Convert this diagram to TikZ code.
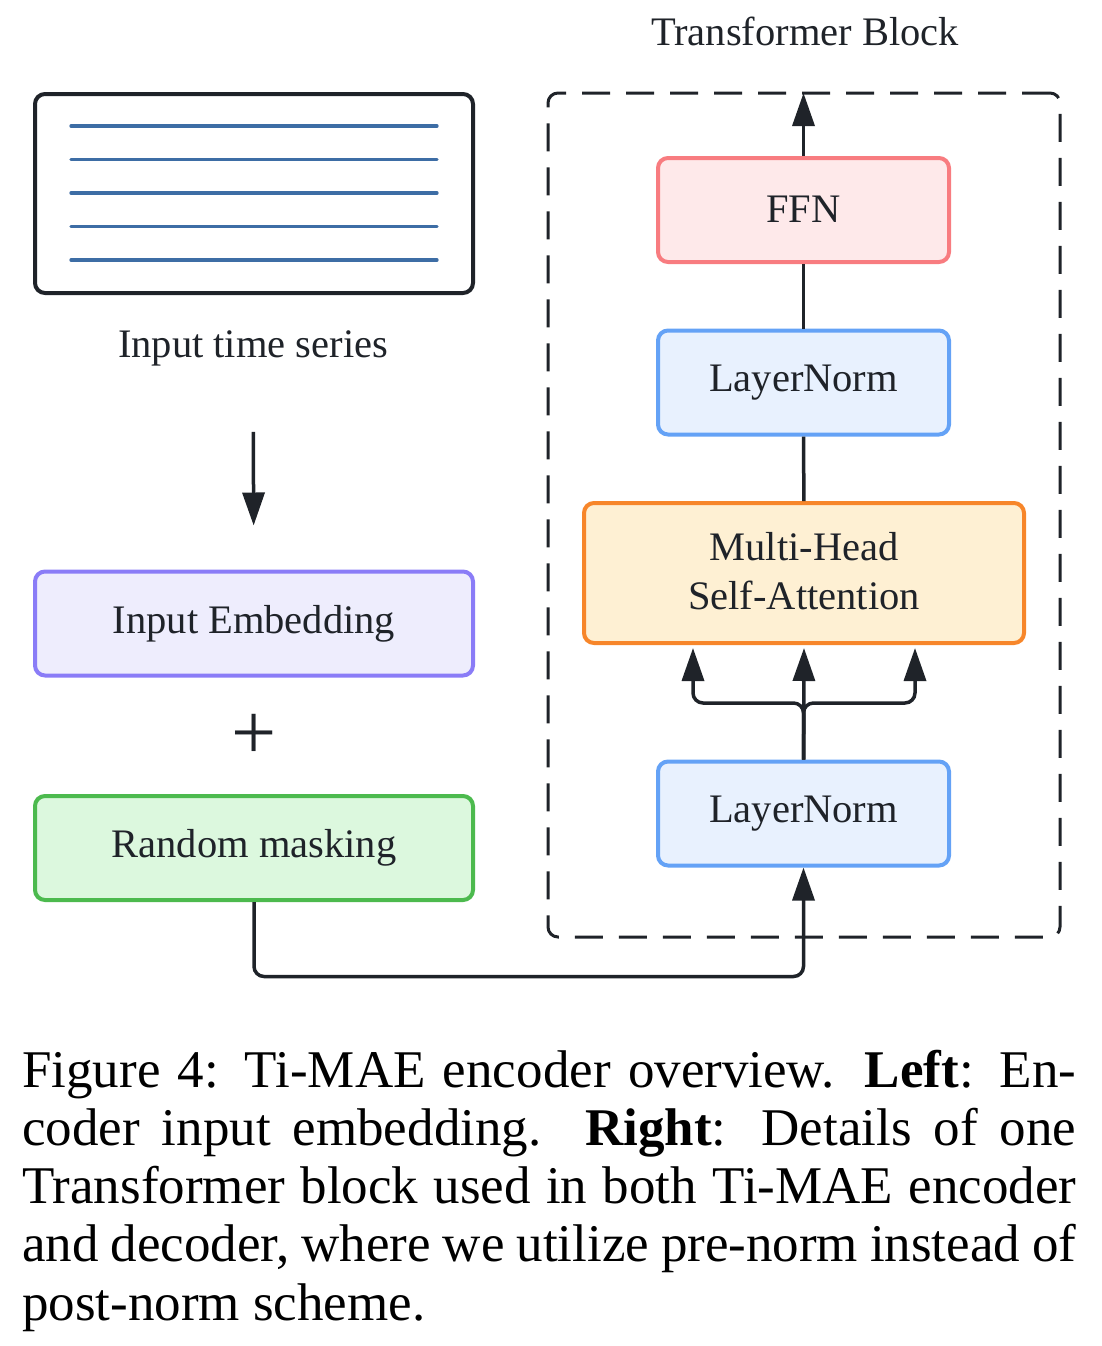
\documentclass[tikz,border=0pt]{standalone}
\usepackage{fontspec}
\setmainfont{Liberation Serif}
\usetikzlibrary{arrows.meta,calc}
\definecolor{ink}{HTML}{1F2329}
\definecolor{tsline}{HTML}{3D6DA5}
\definecolor{embd}{HTML}{8A7CF7}
\definecolor{embf}{HTML}{EEEDFD}
\definecolor{rmd}{HTML}{4CBA4E}
\definecolor{rmf}{HTML}{DCF8DE}
\definecolor{ffnd}{HTML}{F87C80}
\definecolor{ffnf}{HTML}{FEE9EA}
\definecolor{lnd}{HTML}{64A2F6}
\definecolor{lnf}{HTML}{E8F1FE}
\definecolor{mhd}{HTML}{F7862A}
\definecolor{mhf}{HTML}{FEF0D3}
\begin{document}
\begin{tikzpicture}[x=1pt,y=-1pt,
  box/.style={rectangle, rounded corners=10pt, line width=4pt, minimum width=438pt,
    minimum height=104pt, inner sep=0pt, text=ink, align=center,
    font=\fontsize{40.5}{49}\selectfont},
  lbl/.style={inner sep=0pt, text=ink, font=\fontsize{40.5}{49}\selectfont},
  conn/.style={draw=ink, line width=3.5pt},
  arr/.style={conn, -{Triangle[length=33pt,width=22pt]}},
  tsl/.style={draw=tsline, line width=3.3pt, line cap=round}]
\useasboundingbox (0,0) rectangle (1102,1346);

% ---------- left column ----------
\node[box, draw=ink, fill=white, minimum width=438pt, minimum height=199pt] (ts) at (254,193.5) {};
\foreach \yy in {126,159.5,193,226.5,260}
  \draw[tsl] (71,\yy) -- (437,\yy);
\node[lbl, anchor=base] (tslbl) at (253,357) {Input time series};

\node[box, draw=embd, fill=embf] (emb) at (254,623.5) {Input Embedding};
\node[lbl, font=\fontsize{80}{80}\selectfont] (plus) at (254,737) {+};
\node[box, draw=rmd, fill=rmf] (rm) at (254,848) {Random masking};

\draw[arr, shorten <=66pt, shorten >=44pt] (tslbl) -- (emb);

% ---------- transformer block ----------
\node[lbl, anchor=base] (tblbl) at (805,46) {Transformer Block};
\node[draw=ink, line width=3pt, dash pattern=on 28pt off 16pt, rounded corners=10pt,
  minimum width=512pt, minimum height=844pt, inner sep=0pt] (tb) at (804,515) {};

\node[box, draw=ffnd, fill=ffnf, minimum width=291pt] (ffn) at (803.5,210) {\raisebox{2pt}{FFN}};
\node[box, draw=lnd, fill=lnf, minimum width=291pt] (ln2) at (803.5,382.5) {LayerNorm};
\node[box, draw=mhd, fill=mhf, minimum width=440pt, minimum height=140pt] (mh) at (804,573) {\raisebox{4pt}{Multi-Head}\\\raisebox{4pt}{Self-Attention}};
\node[box, draw=lnd, fill=lnf, minimum width=291pt] (ln1) at (803.5,813.5) {LayerNorm};

\draw[arr, shorten >=1.5pt] (ffn) -- (ffn.north |- tb.north);
\draw[conn] (ln2) -- (ffn);
\draw[conn] (mh) -- (ln2);

\coordinate (mL) at ($(mh.south)+(-111,3)$);
\coordinate (mC) at ($(mh.south)+(0,3)$);
\coordinate (mR) at ($(mh.south)+(111,3)$);
\draw[arr] (ln1) -- (mC);
\draw[arr, rounded corners=10pt] (ln1.north) |- ($(mL)+(0,55)$) -- (mL);
\draw[arr, rounded corners=10pt] (ln1.north) |- ($(mR)+(0,55)$) -- (mR);

\coordinate (low) at ($(ln1.south)+(0,109)$);
\draw[arr, rounded corners=10pt] (rm.south) |- (low) -- (ln1.south);

% ---------- caption ----------
\node[anchor=base west, inner sep=0pt, text width=1054pt, align=justify,
  font=\fontsize{53}{58.3}\selectfont] (cap) at (22,1087)
  {Figure 4: Ti-MAE encoder overview. \textbf{Left}: En-\linebreak
   coder input embedding. \textbf{Right}: Details of one\linebreak
   Transformer block used in both Ti-MAE encoder\linebreak
   and decoder, where we utilize pre-norm instead of\linebreak
   post-norm scheme.};
\end{tikzpicture}
\end{document}
